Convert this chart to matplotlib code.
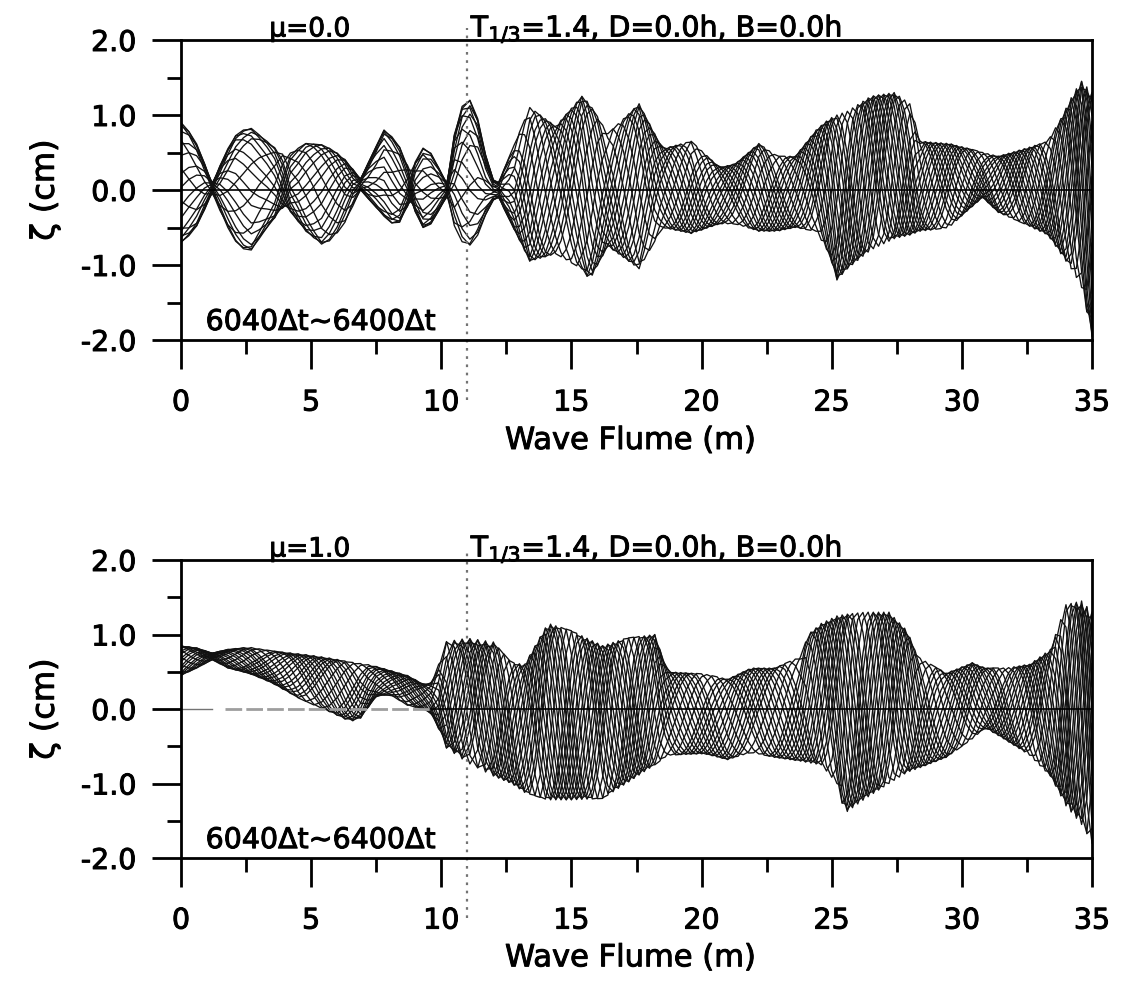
import numpy as np
import matplotlib
matplotlib.use("Agg")
import matplotlib.pyplot as plt
import matplotlib.patheffects as pe
from matplotlib.ticker import MultipleLocator, FormatStrFormatter

plt.rcParams["font.family"] = ["DejaVu Sans"]
plt.rcParams["axes.unicode_minus"] = False

# ---------------------------------------------------------------------------
# Free-surface snapshots along the flume, 6040Δt ... 6400Δt every 20Δt.
# Each panel is described by the upper / lower bounds of the water surface
# at stations along the flume, the local wave length, and the share of the
# motion that is standing (reflected) between fixed nodes.
# ---------------------------------------------------------------------------
STEPS = list(range(6040, 6401, 20))          # 19 snapshots
PHASE_PER_STEP = 0.55 / 20.0                 # rad per Δt

# mu = 0.0
X_TOP = [0.0, 0.5, 1.2, 2.0, 2.6, 3.3, 4.0, 4.8, 5.5, 6.2, 6.9, 7.8, 8.3,
         8.8, 9.4, 10.2, 10.6, 11.0, 11.4, 11.9, 12.2, 13.4, 14.4, 15.4,
         15.7, 16.4, 17.6, 18.5, 19.6, 20.7, 21.3, 22.2, 22.9, 23.6, 24.4,
         24.9, 25.2, 25.6, 26.5, 27.4, 28.0, 28.4, 29.5, 30.3, 30.8, 31.4,
         32.4, 33.3, 33.8, 34.3, 34.6, 35.0]
UP_TOP = [0.90, 0.70, 0.10, 0.70, 0.85, 0.65, 0.45, 0.62, 0.60, 0.45, 0.15,
          0.80, 0.65, 0.25, 0.62, 0.10, 0.95, 1.28, 0.95, 0.15, 0.10, 1.10,
          0.85, 1.25, 1.15, 0.75, 1.15, 0.55, 0.65, 0.30, 0.35, 0.62, 0.45,
          0.45, 0.80, 0.95, 1.00, 1.05, 1.25, 1.30, 1.15, 0.65, 0.62, 0.55,
          0.50, 0.45, 0.55, 0.65, 0.95, 1.30, 1.45, 1.30]
LO_TOP = [-0.70, -0.55, -0.05, -0.65, -0.85, -0.50, -0.20, -0.55, -0.75,
          -0.50, 0.00, -0.35, -0.50, -0.15, -0.57, -0.10, -0.60, -0.78,
          -0.60, -0.15, -0.10, -0.95, -0.85, -1.05, -1.20, -0.75, -1.05,
          -0.50, -0.58, -0.45, -0.45, -0.55, -0.55, -0.50, -0.55, -0.85,
          -1.20, -1.05, -0.80, -0.65, -0.60, -0.55, -0.50, -0.25, -0.10,
          -0.30, -0.45, -0.60, -0.85, -1.10, -1.30, -1.95]
WL_X_TOP = [0.0, 12.0, 13.0, 20.0, 24.0, 25.0, 28.0, 29.0, 33.0, 35.0]
WL_TOP = [5.0, 4.6, 3.4, 3.2, 3.0, 2.4, 2.4, 2.9, 2.5, 1.8]
NODES_TOP = [1.2, 4.0, 6.9, 8.8, 10.2, 12.2]
STAND_X_TOP = [0.0, 3.5, 4.5, 6.5, 7.5, 12.0, 12.8, 35.0]
STAND_TOP = [0.6, 0.6, 0.3, 0.3, 0.6, 0.6, 0.0, 0.0]

# mu = 1.0
X_BOT = [0.0, 0.6, 1.2, 1.8, 2.6, 3.5, 4.5, 5.0, 5.8, 6.5, 7.1, 7.3, 8.0,
         8.7, 9.5, 9.8, 10.1, 11.0, 12.0, 12.7, 13.2, 14.1, 15.0, 16.2,
         17.1, 18.2, 18.7, 20.1, 21.0, 21.9, 22.8, 23.8, 24.1, 24.6, 25.2,
         25.5, 26.3, 27.2, 27.9, 28.3, 29.4, 30.4, 30.9, 31.7, 32.6, 33.4,
         34.0, 34.6, 35.0]
UP_BOT = [0.85, 0.82, 0.75, 0.80, 0.83, 0.78, 0.74, 0.72, 0.68, 0.63, 0.60,
          0.59, 0.52, 0.45, 0.30, 0.45, 0.90, 0.95, 0.90, 0.62, 0.60, 1.15,
          1.05, 0.85, 0.95, 1.00, 0.50, 0.47, 0.40, 0.55, 0.55, 0.70, 1.00,
          1.15, 1.25, 1.27, 1.30, 1.30, 1.05, 0.70, 0.48, 0.62, 0.55, 0.55,
          0.60, 0.80, 1.40, 1.45, 1.30]
LO_BOT = [0.45, 0.55, 0.66, 0.55, 0.48, 0.35, 0.15, 0.07, -0.05, -0.17,
          -0.10, 0.15, 0.20, 0.05, -0.02, -0.15, -0.50, -0.72, -0.90, -1.00,
          -1.12, -1.22, -1.22, -1.20, -1.00, -0.75, -0.62, -0.60, -0.68,
          -0.58, -0.65, -0.70, -0.72, -0.75, -1.00, -1.40, -1.20, -1.00,
          -0.85, -0.80, -0.65, -0.40, -0.25, -0.42, -0.62, -0.90, -1.30,
          -1.55, -1.80]
WL_X_BOT = [0.0, 9.0, 10.0, 18.0, 19.0, 23.5, 24.5, 28.0, 29.0, 33.0, 35.0]
WL_BOT = [4.0, 3.5, 2.4, 2.4, 3.4, 3.4, 2.4, 2.4, 3.2, 2.4, 1.6]
NODES_BOT = []
STAND_X_BOT = [0.0, 35.0]
STAND_BOT = [0.0, 0.0]

PANELS = [
    dict(mu="\u03bc=0.0", x=X_TOP, up=UP_TOP, lo=LO_TOP, wx=WL_X_TOP, wl=WL_TOP,
         nodes=NODES_TOP, sx=STAND_X_TOP, sr=STAND_TOP),
    dict(mu="\u03bc=1.0", x=X_BOT, up=UP_BOT, lo=LO_BOT, wx=WL_X_BOT, wl=WL_BOT,
         nodes=NODES_BOT, sx=STAND_X_BOT, sr=STAND_BOT),
]

# computational grid: coarse upstream, finer downstream
GRID = np.concatenate([np.arange(0.0, 12.0, 0.3), np.arange(12.0, 35.0001, 0.2)])


def standing_mode(nodes):
    """Signed standing-wave shape: antinode at the paddle, zero at each node."""
    if not nodes:
        return np.ones_like(GRID)
    edges = np.concatenate([[-nodes[0]], nodes])
    j = np.searchsorted(nodes, GRID)
    mode = np.ones_like(GRID)
    inside = j < len(nodes)
    a, b = edges[j[inside]], edges[j[inside] + 1]
    mag = np.abs(np.sin(np.pi * (GRID[inside] - a) / (b - a))) ** 0.4
    mode[inside] = mag * (-1.0) ** j[inside]
    mode[~inside] = (-1.0) ** len(nodes)
    return mode


def surface_profiles(p):
    fine = np.linspace(0.0, 35.0, 3501)
    wl = np.interp(fine, p["wx"], p["wl"])
    theta_fine = np.concatenate([[0.0], np.cumsum(2 * np.pi / wl[:-1] * np.diff(fine))])
    theta = np.interp(GRID, fine, theta_fine)
    up = np.interp(GRID, p["x"], p["up"])
    lo = np.interp(GRID, p["x"], p["lo"])
    r = np.interp(GRID, p["sx"], p["sr"])
    mode = standing_mode(p["nodes"])
    shapes = []
    for s in STEPS:
        ph = (s - STEPS[0]) * PHASE_PER_STEP
        shapes.append(r * mode * np.cos(ph) + (1 - r) * np.cos(theta - ph))
    shapes = np.array(shapes)
    # stretch so that the set of snapshots spans the observed bounds
    smin, smax = shapes.min(axis=0), shapes.max(axis=0)
    unit = (shapes - smin) / np.maximum(smax - smin, 1e-6)
    return lo + unit * (up - lo)


fig = plt.figure(figsize=(11.31, 9.82), dpi=100)
W, H = 1131.0, 982.0
axes_px = [(181, 1092, 40, 340), (181, 1092, 560, 858)]
heavy = [pe.withStroke(linewidth=0.7, foreground="black")]

for k, (p, (l, r, t, b)) in enumerate(zip(PANELS, axes_px)):
    ax = fig.add_axes([l / W, 1 - b / H, (r - l) / W, (b - t) / H])
    for eta in surface_profiles(p):
        ax.plot(GRID, eta, color="#121212", lw=0.95)

    if k == 0:
        ax.plot([0, 35], [0, 0], color="k", lw=1.2)
    else:
        ax.plot([0, 1.2], [0, 0], color="0.45", lw=1.0)
        ax.plot([1.7, 9.6], [0, 0], color="0.62", lw=2.0, ls=(0, (6, 1.5)))
        ax.plot([9.6, 35], [0, 0], color="k", lw=1.2)

    # gauge / structure position
    ax.plot([11, 11], [-0.2, 1.04], transform=ax.get_xaxis_transform(),
            color="0.45", lw=1.6, ls=(0, (1.2, 2.5)), clip_on=False)

    ax.set_xlim(0, 35)
    ax.set_ylim(-2, 2)
    ax.xaxis.set_major_locator(MultipleLocator(5))
    ax.xaxis.set_minor_locator(MultipleLocator(2.5))
    ax.yaxis.set_major_locator(MultipleLocator(1.0))
    ax.yaxis.set_minor_locator(MultipleLocator(0.5))
    ax.yaxis.set_major_formatter(FormatStrFormatter("%.1f"))
    ax.tick_params(axis="both", which="major", direction="out", length=21,
                   width=2.0, labelsize=20.5, color="k")
    ax.tick_params(axis="both", which="minor", direction="out", length=10,
                   width=2.0, color="k")
    ax.tick_params(axis="y", which="major", pad=11)
    ax.tick_params(axis="x", which="major", pad=14)
    for lab in ax.get_xticklabels() + ax.get_yticklabels():
        lab.set_path_effects(heavy)
    for s in ax.spines.values():
        s.set_linewidth(2.0)

    ax.text(0.097, 1.012, p["mu"], transform=ax.transAxes, fontsize=19,
            ha="left", va="baseline", path_effects=heavy)
    ax.text(0.318, 1.012, r"T$_{1/3}$=1.4, D=0.0h, B=0.0h", transform=ax.transAxes,
            fontsize=20.5, ha="left", va="baseline", path_effects=heavy)
    ax.text(0.027, 0.06, "6040\u0394t~6400\u0394t", transform=ax.transAxes,
            fontsize=20.5, ha="left", va="center", path_effects=heavy)
    ax.text(0.493, -0.335, "Wave Flume (m)", transform=ax.transAxes,
            fontsize=22, ha="center", va="center", path_effects=heavy)
    ax.text(-0.149, 0.5, "\u03b6 (cm)", transform=ax.transAxes, fontsize=23,
            rotation=90, ha="center", va="center", path_effects=heavy)

fig.savefig("out.png", dpi=100)
